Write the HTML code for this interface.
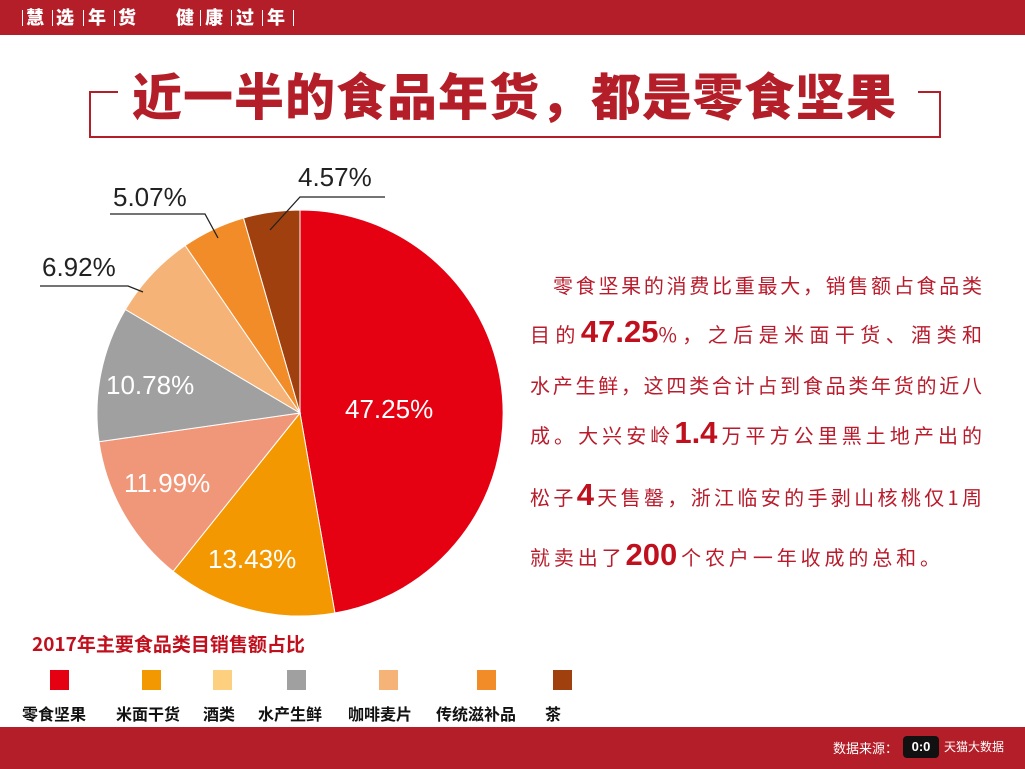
<!DOCTYPE html>
<html><head><meta charset="utf-8"><style>
body{margin:0;width:1025px;height:769px;overflow:hidden;background:#fff;position:relative;font-family:"Liberation Sans","Noto Sans CJK SC",sans-serif}
.hdr{position:absolute;left:0;top:0;width:1025px;height:35px;background:#b41e28;color:#fff;font-weight:bold;font-size:18px;line-height:35px}
.hdr span{position:absolute;top:0;font-family:"Noto Sans CJK SC",sans-serif;font-weight:900}
.hdr i{position:absolute;top:10px;width:1px;height:16px;background:#fff}
.ftr{position:absolute;left:0;top:727px;width:1025px;height:42px;background:#b41e28}
.t{position:absolute;font-family:"Noto Sans CJK SC",sans-serif;color:#b81c2c;font-size:20px;white-space:nowrap}
.ln{position:absolute;left:530px;width:452px;text-align:justify;text-align-last:justify;font-family:"Noto Sans CJK SC",sans-serif;color:#b81c2c;font-size:20px;height:30px;line-height:30px;white-space:nowrap}
.ln b{font-family:"Liberation Sans",sans-serif;font-size:31px;color:#c0101e}
.lg{position:absolute;top:670px;width:19px;height:20px}
.ll{position:absolute;top:701px;font-family:"Noto Sans CJK SC",sans-serif;font-size:16px;font-weight:bold;color:#111;white-space:nowrap}
</style></head><body>
<div class="hdr">
<i style="left:22px"></i><span style="left:26px">慧</span><i style="left:52px"></i><span style="left:56px">选</span><i style="left:83px"></i><span style="left:88px">年</span><i style="left:114px"></i><span style="left:118px">货</span>
<span style="left:176px">健</span><i style="left:200px"></i><span style="left:205px">康</span><i style="left:231px"></i><span style="left:236px">过</span><i style="left:262px"></i><span style="left:267px">年</span><i style="left:293px"></i>
</div>
<svg width="1025" height="769" style="position:absolute;left:0;top:0">
<polyline points="118,92 90,92 90,137 940,137 940,92 918,92" fill="none" stroke="#b41e28" stroke-width="2"/>
<g stroke="#fff" stroke-width="1">
<path d="M300,413 L300,210 A203,203 0 0 1 334.9,613 Z" fill="#e50012"/>
<path d="M300,413 L334.9,613 A203,203 0 0 1 173.1,571.4 Z" fill="#f39800"/>
<path d="M300,413 L173.1,571.4 A203,203 0 0 1 99,441.7 Z" fill="#f0977a"/>
<path d="M300,413 L99,441.7 A203,203 0 0 1 125.4,309.5 Z" fill="#a0a0a0"/>
<path d="M300,413 L125.4,309.5 A203,203 0 0 1 185.2,245.5 Z" fill="#f5b378"/>
<path d="M300,413 L185.2,245.5 A203,203 0 0 1 243.5,218 Z" fill="#f28c28"/>
<path d="M300,413 L243.5,218 A203,203 0 0 1 300,210 Z" fill="#a0400e"/>
</g>
<g stroke="#222" stroke-width="1.3" fill="none">
<polyline points="270,230 300,197 385,197"/>
<polyline points="218,238 205,214 110,214"/>
<polyline points="143,292 128,286 40,286"/>
</g>
<g font-family="Liberation Sans,sans-serif" font-size="26" fill="#fff">
<text x="345" y="418">47.25%</text>
<text x="208" y="568">13.43%</text>
<text x="124" y="492">11.99%</text>
<text x="106" y="394">10.78%</text>
</g>
<g font-family="Liberation Sans,sans-serif" font-size="26" fill="#222">
<text x="298" y="186">4.57%</text>
<text x="113" y="206">5.07%</text>
<text x="42" y="276">6.92%</text>
</g>
</svg>
<div class="t" style="left:132px;top:62px;font-size:50px;font-weight:900;letter-spacing:1px;color:#b41e28;line-height:64px">近一半的食品年货，都是零食坚果</div>
<div class="ln" style="top:270px;left:553px;width:429px">零食坚果的消费比重最大，销售额占食品类</div>
<div class="ln" style="top:317px">目的<b>47.25</b>%，之后是米面干货、酒类和</div>
<div class="ln" style="top:370px">水产生鲜，这四类合计占到食品类年货的近八</div>
<div class="ln" style="top:418px">成。大兴安岭<b>1.4</b>万平方公里黑土地产出的</div>
<div class="ln" style="top:480px">松子<b>4</b>天售罄，浙江临安的手剥山核桃仅1周</div>
<div class="ln" style="top:540px;width:410px">就卖出了<b>200</b>个农户一年收成的总和。</div>
<div class="t" style="left:32px;top:630px;font-size:19px;font-weight:bold;color:#c0101e">2017年主要食品类目销售额占比</div>
<div class="lg" style="left:50px;background:#e50012"></div>
<div class="lg" style="left:142px;background:#f39800"></div>
<div class="lg" style="left:213px;background:#fdd080"></div>
<div class="lg" style="left:287px;background:#a0a0a0"></div>
<div class="lg" style="left:379px;background:#f5b378"></div>
<div class="lg" style="left:477px;background:#f28c28"></div>
<div class="lg" style="left:553px;background:#a0400e"></div>
<div class="ll" style="left:22px">零食坚果</div>
<div class="ll" style="left:116px">米面干货</div>
<div class="ll" style="left:203px">酒类</div>
<div class="ll" style="left:258px">水产生鲜</div>
<div class="ll" style="left:348px">咖啡麦片</div>
<div class="ll" style="left:436px">传统滋补品</div>
<div class="ll" style="left:545px">茶</div>
<div class="ftr">
<span style="position:absolute;left:833px;top:11px;color:#fff;font-size:13px;white-space:nowrap;font-family:'Noto Sans CJK SC',sans-serif">数据来源：</span>
<div style="position:absolute;left:903px;top:9px;width:36px;height:22px;background:#111;border-radius:4px;color:#fff;font-size:13px;font-weight:bold;text-align:center;line-height:22px">0:0</div>
<span style="position:absolute;left:944px;top:11px;color:#fff;font-size:12px;white-space:nowrap;font-family:'Noto Sans CJK SC',sans-serif">天猫大数据</span>
</div>
</body></html>
